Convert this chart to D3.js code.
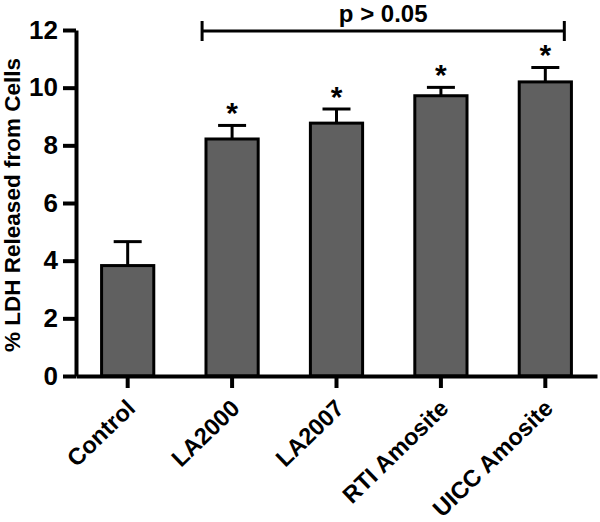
<!DOCTYPE html>
<html>
<head>
<meta charset="utf-8">
<script src="https://cdn.jsdelivr.net/npm/d3@7"></script>
<style>
  body { margin: 0; background: #fff; }
  svg text { font-family: Arial, "Liberation Sans", sans-serif; font-weight: bold; }
</style>
</head>
<body>
<svg id="chart" width="600" height="522"></svg>
<script>
// data
var groups = ['Control', 'LA2000', 'LA2007', 'RTI Amosite', 'UICC Amosite'];
var means  = [3.83, 8.22, 8.77, 9.72, 10.2];
var errors = [0.83, 0.47, 0.49, 0.29, 0.5];
var stars  = ['', '*', '*', '*', '*'];
var yTicks = [0, 2, 4, 6, 8, 10, 12];

var svg = d3.select('#chart');

var y = d3.scaleLinear().domain([0, 12]).range([376, 30]);
var x = d3.scaleBand().domain(groups).range([76, 597])
  .paddingInner(0.5).paddingOuter(0.245);

// bars
svg.append('g').selectAll('rect').data(groups).enter()
  .append('rect')
    .attr('x', function(d) { return x(d); })
    .attr('y', function(d, i) { return y(means[i]); })
    .attr('width', x.bandwidth())
    .attr('height', function(d, i) { return y(0) - y(means[i]); })
    .attr('fill', '#606060')
    .attr('stroke', '#000')
    .attr('stroke-width', 3);

// error bars (upper only)
var eb = svg.append('g').attr('stroke', '#000').attr('stroke-width', 3);
groups.forEach(function(g, i) {
  var cx = x(g) + x.bandwidth() / 2;
  eb.append('line').attr('x1', cx).attr('x2', cx)
    .attr('y1', y(means[i])).attr('y2', y(means[i] + errors[i]));
  eb.append('line').attr('x1', cx - 14).attr('x2', cx + 14)
    .attr('y1', y(means[i] + errors[i])).attr('y2', y(means[i] + errors[i]));
  if (stars[i]) {
    svg.append('text')
      .attr('x', cx).attr('y', y(means[i] + errors[i]) - 2)
      .attr('text-anchor', 'middle')
      .style('font-size', '30px')
      .text(stars[i]);
  }
});

// y axis
var yAxis = svg.append('g').attr('transform', 'translate(76,0)')
  .call(d3.axisLeft(y).tickValues(yTicks).tickSize(13).tickSizeOuter(0).tickPadding(5));
yAxis.select('.domain').attr('stroke-width', 4);
yAxis.selectAll('.tick line').attr('stroke-width', 4);
yAxis.selectAll('.tick text').style('font-size', '26px').attr('fill', '#000');

// x axis
var xAxis = svg.append('g').attr('transform', 'translate(0,376)')
  .call(d3.axisBottom(x).tickSize(12).tickSizeOuter(0));
xAxis.select('.domain').attr('stroke-width', 4);
xAxis.selectAll('.tick line').attr('stroke-width', 4);
xAxis.selectAll('.tick text')
  .style('font-size', '23.5px').attr('fill', '#000')
  .attr('text-anchor', 'end')
  .attr('dy', null)
  .attr('transform', 'translate(9,34) rotate(-44)')
  .attr('y', 0).attr('x', 0);

// y label
svg.append('text')
  .attr('transform', 'translate(20,205) rotate(-90)')
  .attr('text-anchor', 'middle')
  .style('font-size', '22.5px')
  .text('% LDH Released from Cells');

// significance bracket
var bx1 = x('LA2000') + x.bandwidth() / 2 - 30,
    bx2 = x('UICC Amosite') + x.bandwidth() / 2 + 19;
var br = svg.append('g').attr('stroke', '#000').attr('stroke-width', 3);
br.append('line').attr('x1', bx1).attr('x2', bx2).attr('y1', 31).attr('y2', 31);
br.append('line').attr('x1', bx1).attr('x2', bx1).attr('y1', 21).attr('y2', 41);
br.append('line').attr('x1', bx2).attr('x2', bx2).attr('y1', 21).attr('y2', 41);
svg.append('text')
  .attr('x', (bx1 + bx2) / 2).attr('y', 21.5)
  .attr('text-anchor', 'middle')
  .style('font-size', '24px')
  .text('p > 0.05');
</script>
</body>
</html>
